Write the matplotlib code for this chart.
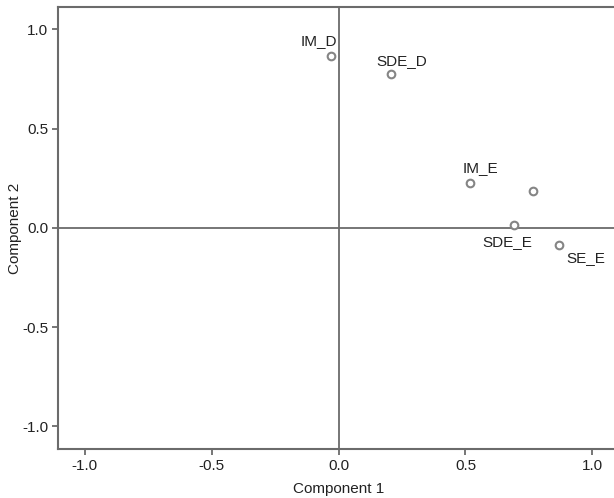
import matplotlib
matplotlib.use("Agg")
import matplotlib.pyplot as plt

# component loadings
labels = ["IM_D", "SDE_D", "IM_E", "", "SDE_E", "SE_E"]
comp1 = [-0.03, 0.205, 0.516, 0.768, 0.693, 0.870]
comp2 = [0.866, 0.776, 0.227, 0.186, 0.015, -0.086]
# label offsets in points (x, y)
offsets = [(-9, 11), (8, 9), (8, 11), (0, 0), (-5, -12), (19, -9)]

plt.rcParams["font.family"] = ["Liberation Sans", "DejaVu Sans"]
grey = "#6b6b6b"
fs = 11

fig = plt.figure(figsize=(6.14, 4.98), dpi=100)
ax = fig.add_axes([0.0949, 0.0978, 0.913, 0.8888])

ax.axhline(0, color=grey, lw=1.3, zorder=1)
ax.axvline(0, color=grey, lw=1.3, zorder=1)
ax.plot(comp1, comp2, "o", ms=5.5, mfc="white", mec="#858585", mew=1.5, zorder=3)

for x, y, lab, off in zip(comp1, comp2, labels, offsets):
    if lab:
        ax.annotate(lab, (x, y), xytext=off, textcoords="offset points",
                    ha="center", va="center", fontsize=fs, color="#222222")

ax.set_xlim(-1.1045, 1.1045)
ax.set_ylim(-1.115, 1.115)
ticks = [-1.0, -0.5, 0.0, 0.5, 1.0]
ax.set_xticks(ticks)
ax.set_yticks(ticks)
ax.set_xticklabels([f"{t:.1f}" for t in ticks])
ax.set_yticklabels([f"{t:.1f}" for t in ticks])
ax.tick_params(direction="out", length=4.3, width=1.3, color=grey, pad=3,
               labelsize=fs, labelcolor="#222222")
for s in ax.spines.values():
    s.set_color(grey)
    s.set_linewidth(1.5)

ax.set_xlabel("Component 1", fontsize=fs, color="#222222", labelpad=6.5)
ax.set_ylabel("Component 2", fontsize=fs, color="#222222", labelpad=0)

fig.savefig("out.png", dpi=100)
